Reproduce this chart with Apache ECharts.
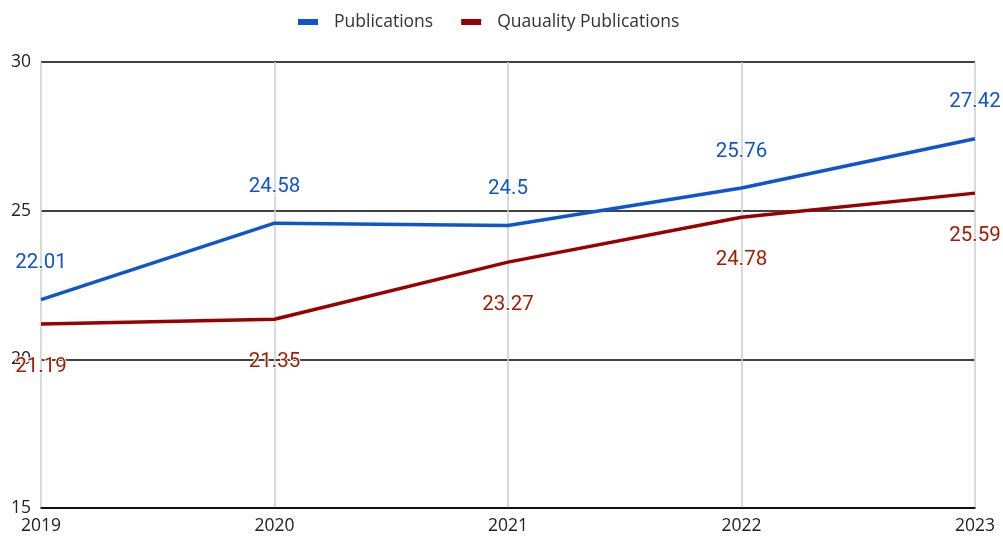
<!DOCTYPE html>
<html>
<head>
    <meta charset="utf-8" />
    <title></title>
    <script type="text/javascript" src="https://cdn.jsdelivr.net/npm/echarts@6/dist/echarts.min.js"></script>
    <style>
        html, body { margin: 0; padding: 0; background: #fff; }
        #con1 { width: 1003px; height: 538px; }
    </style>
</head>
<body>
    <div id="con1"></div>
    <script type="text/javascript">
        var years = ['2019', '2020', '2021', '2022', '2023'];
        var publications = [22.01, 24.58, 24.5, 25.76, 27.42];
        var qualityPublications = [21.19, 21.35, 23.27, 24.78, 25.59];
        var yTicks = [15, 20, 25, 30];

        var myChart1 = echarts.init(document.getElementById('con1'));
        var option1 = {
            backgroundColor: '#fff',
            animation: false,
            legend: {
                top: 8,
                left: 293,
                itemWidth: 20,
                itemHeight: 6,
                itemGap: 28,
                icon: 'rect',
                textStyle: { fontFamily: 'Open Sans', fontSize: 17.5, color: '#333', padding: [0, 0, 0, 11] },
                data: ['Publications', 'Quauality Publications']
            },
            grid: {
                left: 41,
                right: 28,
                top: 62,
                bottom: 30
            },
            xAxis: {
                type: 'category',
                boundaryGap: false,
                data: years,
                axisLine: { lineStyle: { color: '#000', width: 1.5 } },
                axisTick: { show: false },
                axisLabel: {
                    fontFamily: 'Open Sans',
                    fontSize: 17.5,
                    color: '#222',
                    margin: 9
                },
                splitLine: { show: true, lineStyle: { color: '#ccc', width: 1.5 } }
            },
            yAxis: {
                type: 'value',
                min: yTicks[0],
                max: yTicks[yTicks.length - 1],
                interval: 5,
                axisLine: { show: false },
                axisTick: { show: false },
                axisLabel: {
                    fontFamily: 'Open Sans',
                    fontSize: 17.5,
                    color: '#222',
                    margin: 10
                },
                splitLine: { lineStyle: { color: '#000', width: 1.5 } }
            },
            series: [
                {
                    name: 'Publications',
                    type: 'line',
                    data: publications,
                    symbol: 'circle',
                    symbolSize: 0.1,
                    lineStyle: { color: '#1155cc', width: 3.5 },
                    itemStyle: { color: '#1155cc' },
                    label: {
                        show: true,
                        position: 'top',
                        distance: 26,
                        fontFamily: 'Roboto',
                        fontSize: 20.5,
                        color: '#1155cc',
                        textBorderColor: '#fff',
                        textBorderWidth: 2
                    },
                    z: 3
                },
                {
                    name: 'Quauality Publications',
                    type: 'line',
                    data: qualityPublications,
                    symbol: 'circle',
                    symbolSize: 0.1,
                    lineStyle: { color: '#990000', width: 3.5 },
                    itemStyle: { color: '#990000' },
                    label: {
                        show: true,
                        position: 'bottom',
                        distance: 32,
                        fontFamily: 'Roboto',
                        fontSize: 20.5,
                        color: '#a61c00',
                        textBorderColor: '#fff',
                        textBorderWidth: 2
                    },
                    z: 2
                }
            ]
        };
        option1 && myChart1.setOption(option1);
    </script>
</body>
</html>
